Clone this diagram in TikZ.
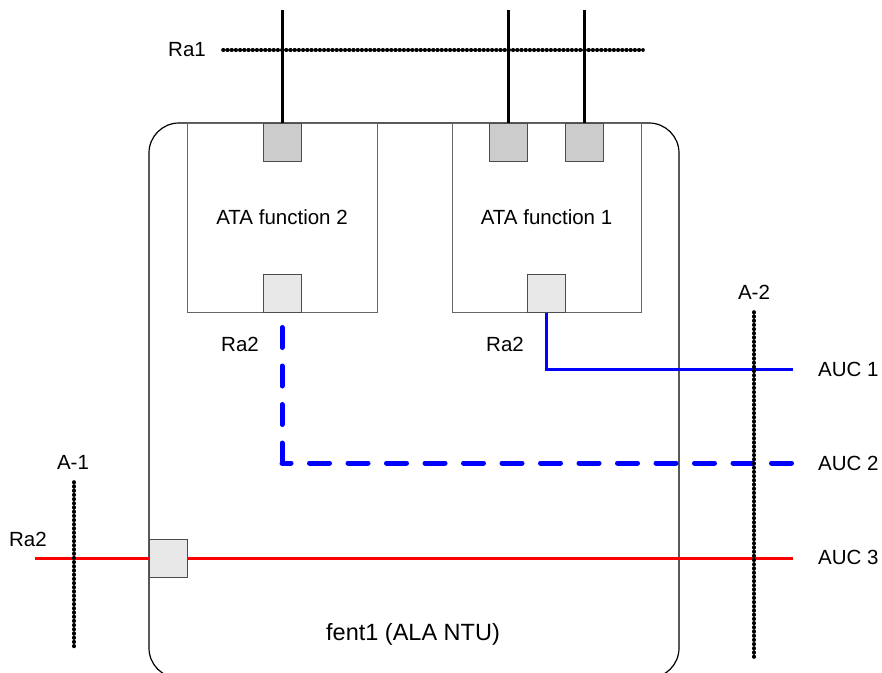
\documentclass[tikz,border=0pt]{standalone}
\usepackage{fontspec}
\setmainfont{Liberation Sans}
\begin{document}
\begin{tikzpicture}[x=1pt,y=-1pt,
  lbl/.style={inner sep=0pt,font=\fontsize{20.5}{24}\selectfont},
  funcbox/.style={draw=black!60,line width=1pt,minimum width=190pt,minimum height=189pt,inner sep=0pt,font=\fontsize{20.5}{24}\selectfont},
  topport/.style={draw=black!70,line width=0.9pt,fill=black!20,minimum size=38pt,inner sep=0pt},
  botport/.style={draw=black!70,line width=0.9pt,fill=black!9,minimum size=38pt,inner sep=0pt},
  busline/.style={line width=3.6pt,dash pattern=on 0.6pt off 3.6pt,line cap=round},
  feeder/.style={line width=3pt,black},
  auc/.style={line width=3pt},
  aucdash/.style={line width=5pt,dash pattern=on 20pt off 18.5pt,line cap=round}]
\useasboundingbox (0,0) rectangle (882,672);
\fill[white] (0,0) rectangle (882,672);
% outer device
\draw[line width=1.2pt,rounded corners=30pt] (149,123) rectangle (679,678);
\node[lbl,font=\fontsize{23.5}{27}\selectfont] (fent) at (413,634) {fent1 (ALA NTU)};
% function boxes
\node[funcbox] (f2) at (282,217.5) {ATA function 2};
\node[funcbox,minimum width=189pt] (f1) at (546.5,217.5) {ATA function 1};
% ports
\node[topport] (p2t) at (282,142) {};
\node[topport] (p1ta) at (508,142) {};
\node[topport] (p1tb) at (584,142) {};
\node[botport] (p2b) at (282,293.5) {};
\node[botport] (p1b) at (546,293.5) {};
\node[botport] (p3) at (168,558) {};
% coordinates
\coordinate (v2) at (282,10);
\coordinate (v1a) at (508,10);
\coordinate (v1b) at (584,10);
\coordinate (ra1s) at (223,50);
\coordinate (ra1e) at (643,50);
\coordinate (a1s) at (74,482);
\coordinate (a1e) at (74,647);
\coordinate (a2s) at (754,312);
\coordinate (a2e) at (754,660);
\coordinate (auc1e) at (793,369);
\coordinate (auc2s) at (282,327.5);
\coordinate (auc2c) at (282,463);
\coordinate (auc2e) at (795,463);
\coordinate (auc3s) at (35,558);
\coordinate (auc3e) at (793,558);
% feeders to Ra1
\draw[feeder] (v2) -- (p2t.north);
\draw[feeder] (v1a) -- (p1ta.north);
\draw[feeder] (v1b) -- (p1tb.north);
\draw[busline] (ra1s) -- (ra1e);
% AUC links
\draw[auc,blue] (p1b.south) |- (auc1e);
\draw[aucdash,blue] (auc2s) -- ([yshift=-2.5pt]auc2c);
\draw[aucdash,blue,dash phase=11pt] (auc2c) -- (auc2e);
\draw[auc,red] (auc3s) -- (p3) -- (auc3e);
% A-1 / A-2 buses
\draw[busline] (a1s) -- (a1e);
\draw[busline] (a2s) -- (a2e);
% labels
\node[lbl] (lra1) at (187,50) {Ra1};
\node[lbl] (lra2a) at (240,344) {Ra2};
\node[lbl] (lra2b) at (505,344) {Ra2};
\node[lbl] (lra2c) at (28,539) {Ra2};
\node[lbl] (la1) at (73,462) {A-1};
\node[lbl] (la2) at (754,292) {A-2};
\node[lbl,anchor=west] (lauc1) at (818,369) {AUC 1};
\node[lbl,anchor=west] (lauc2) at (818,463) {AUC 2};
\node[lbl,anchor=west] (lauc3) at (818,557) {AUC 3};
\end{tikzpicture}
\end{document}
